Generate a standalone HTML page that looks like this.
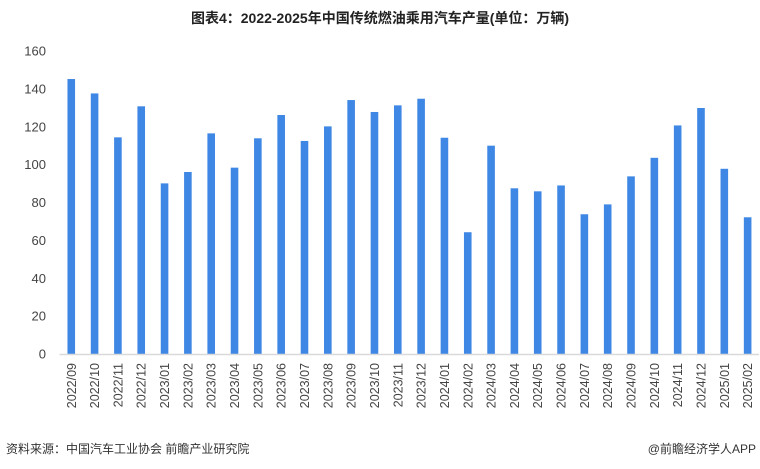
<!DOCTYPE html>
<html><head><meta charset="utf-8"><style>
body{margin:0;background:#fff;}
svg{display:block;font-family:"Liberation Sans","Noto Sans CJK SC",sans-serif;}
</style></head><body>
<svg id="chart" width="760" height="469" viewBox="0 0 760 469">
<text x="380" y="23" text-anchor="middle" font-size="14" font-weight="bold" fill="#222">图表4：2022-2025年中国传统燃油乘用汽车产量(单位：万辆)</text>
<g id="yaxis"></g>
<g id="bars"></g>
<g id="xaxis"></g>
<line x1="59.6" y1="354.5" x2="759" y2="354.5" stroke="#d9d9d9" stroke-width="1.5"/>
<text x="6" y="453" font-size="12" fill="#333">资料来源：中国汽车工业协会 前瞻产业研究院</text>
<text x="756" y="453" text-anchor="end" font-size="12" fill="#333">@前瞻经济学人APP</text>
</svg>
<script>
const categories=["2022/09","2022/10","2022/11","2022/12","2023/01","2023/02","2023/03","2023/04","2023/05","2023/06","2023/07","2023/08","2023/09","2023/10","2023/11","2023/12","2024/01","2024/02","2024/03","2024/04","2024/05","2024/06","2024/07","2024/08","2024/09","2024/10","2024/11","2024/12","2025/01","2025/02"];
const values=[145.2,137.6,114.4,130.8,90.1,96.1,116.5,98.4,113.9,126.2,112.5,120.2,134.1,127.8,131.3,134.8,114.2,64.3,110.0,87.5,85.9,89.0,73.8,79.0,93.8,103.6,120.7,129.9,97.8,72.2];
const yTicks=[0,20,40,60,80,100,120,140,160];
const NS="http://www.w3.org/2000/svg";
const x0=59.6,x1=759.3,yBase=354,yTop=51,yMax=160;
const step=(x1-x0)/categories.length;
function y(v){return yBase-(v/yMax)*(yBase-yTop);}
function xc(i){return x0+step*(i+0.5);}
const ya=document.getElementById('yaxis'),bg=document.getElementById('bars'),xa=document.getElementById('xaxis');
yTicks.forEach(t=>{const e=document.createElementNS(NS,'text');


e.setAttribute('x',46);e.setAttribute('y',y(t)+4.5);e.setAttribute('text-anchor','end');e.setAttribute('font-size','13');e.setAttribute('fill','#444');e.textContent=t;ya.appendChild(e);});
values.forEach((v,i)=>{const r=document.createElementNS(NS,'rect');


r.setAttribute('x',xc(i)-3.8);r.setAttribute('width',7.6);r.setAttribute('y',y(v));r.setAttribute('height',yBase-y(v));r.setAttribute('fill','#3f87e4');bg.appendChild(r);});
categories.forEach((c,i)=>{const e=document.createElementNS(NS,'text');


const cx=xc(i)+4.5,cy=363;e.setAttribute('transform','translate('+cx+','+cy+') rotate(-90)');e.setAttribute('text-anchor','end');e.setAttribute('font-size','12.5');e.setAttribute('fill','#444');e.textContent=c;xa.appendChild(e);});
</script>
</body></html>
